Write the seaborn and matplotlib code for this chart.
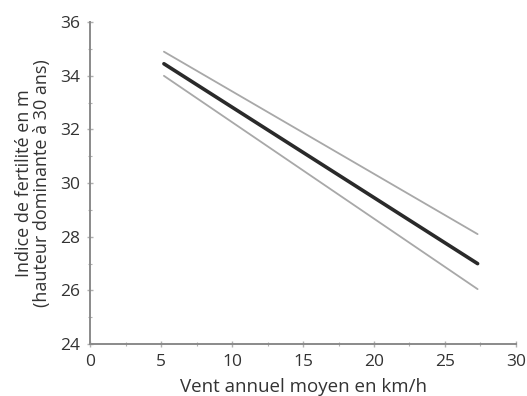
import numpy as np
import pandas as pd
import matplotlib
matplotlib.use("Agg")
import matplotlib.pyplot as plt
import seaborn as sns
from matplotlib.ticker import MultipleLocator

# ----------------------------------------------------------
# DATA
# ----------------------------------------------------------
vent = [5.2, 27.3]             # km/h
fit = [34.45, 27.0]            # fitted line
upper = [34.9, 28.1]           # upper bound
lower = [34.0, 26.05]          # lower bound

sns.set_theme(style="white")
plt.rcParams["font.family"] = ["Open Sans", "DejaVu Sans"]

df = pd.DataFrame({"vent": vent * 3,
                   "valeur": fit + upper + lower,
                   "serie": ["fit"] * 2 + ["haut"] * 2 + ["bas"] * 2})

fig = plt.figure(figsize=(5.27, 3.96), dpi=100)
ax = fig.add_axes([0.171, 0.131, 0.808, 0.813])

sns.lineplot(data=df[df.serie == "haut"], x="vent", y="valeur", ax=ax,
             color="#a8a8a8", linewidth=1.3)
sns.lineplot(data=df[df.serie == "bas"], x="vent", y="valeur", ax=ax,
             color="#a8a8a8", linewidth=1.3)
sns.lineplot(data=df[df.serie == "fit"], x="vent", y="valeur", ax=ax,
             color="#2a2a2a", linewidth=2.6)

ax.set_xlim(0, 30)
ax.set_ylim(24, 36)
ax.xaxis.set_major_locator(MultipleLocator(5))
ax.xaxis.set_minor_locator(MultipleLocator(2.5))
ax.yaxis.set_major_locator(MultipleLocator(2))
ax.yaxis.set_minor_locator(MultipleLocator(1))

for s in ["top", "right"]:
    ax.spines[s].set_visible(False)
for s in ["left", "bottom"]:
    ax.spines[s].set_color("#8a8a8a")
    ax.spines[s].set_linewidth(1.4)

ax.tick_params(which="both", direction="inout", colors="#b0b0b0",
               labelcolor="#333333", labelsize=12.5, bottom=True, left=True)
ax.tick_params(which="major", length=4, width=1)
ax.tick_params(which="minor", length=3, width=0.8)
ax.tick_params(axis="x", pad=5)
ax.tick_params(axis="y", pad=5)

ax.set_xlabel("Vent annuel moyen en km/h", fontsize=13.5, color="#333333",
              labelpad=6)
ax.set_ylabel("Indice de fertilité en m\n(hauteur dominante à 30 ans)",
              fontsize=13, color="#333333", labelpad=7, linespacing=1.0)

fig.savefig("out.png", dpi=100)
